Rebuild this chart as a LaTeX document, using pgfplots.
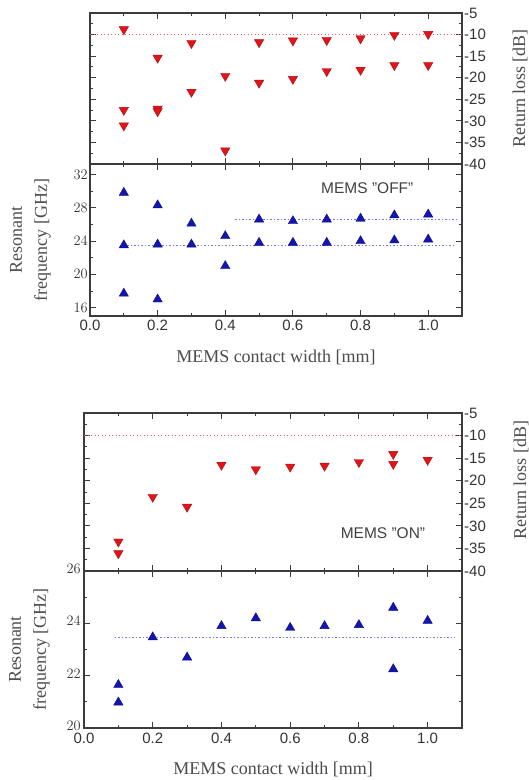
\documentclass[border=0pt]{standalone}
\usepackage{fontspec}
\setmainfont{Liberation Serif}
\setsansfont{Liberation Sans}
\usepackage{pgfplots}
\pgfplotsset{compat=1.18}
\definecolor{mred}{RGB}{225,20,25}
\definecolor{mblue}{RGB}{20,20,175}
\definecolor{lred}{RGB}{230,90,105}
\definecolor{lblue}{RGB}{110,120,225}
\definecolor{axgray}{RGB}{60,60,60}
\pgfplotsset{
  base/.style={
    scale only axis, xmin=0, xmax=1.1,
    axis line style={axgray, line width=1.1pt},
    every tick/.style={axgray, line width=0.9pt},
    major tick length=6pt, minor tick length=3pt, tick align=inside,
    xtick={0,0.2,0.4,0.6,0.8,1.0}, minor xtick={0.1,0.3,0.5,0.7,0.9},
    tick label style={font=\fontsize{15}{15}\sffamily, text=black!80},
    yticklabel style={inner xsep=2pt},
    xtick pos=both, ytick pos=both,
  },
  rl/.style={base, ymin=-40, ymax=-5,
    ytick={-40,-35,-30,-25,-20,-15,-10,-5},
    yticklabels={-40,-35,-30,-25,-20,-15,-10,-5},
    minor ytick={-37.5,-32.5,-27.5,-22.5,-17.5,-12.5,-7.5},
    yticklabel pos=right, xticklabels={},
    ylabel={Return loss [dB]},
  },
  fr/.style={base, yticklabel pos=left,
    xticklabels={0.0,0.2,0.4,0.6,0.8,1.0},
    xlabel={MEMS contact width [mm]},
    ylabel={Resonant\\frequency [GHz]},
    every axis x label/.style={at={(axis description cs:0.5,0)}, anchor=center, yshift=-41pt,
      font=\fontsize{18}{18}\selectfont, text=black!70},
  },
  redm/.style={only marks, mark=triangle*, mark size=5.4pt,
    mark options={rotate=180, fill=mred, draw=mred!75!black, line width=0.4pt}},
  bluem/.style={only marks, mark=triangle*, mark size=5.4pt,
    mark options={fill=mblue, draw=mblue!75!black, line width=0.4pt}},
  redl/.style={lred, line width=1.3pt, dash pattern=on 1.3pt off 2.2pt, no marks},
  bluel/.style={lblue, line width=1.3pt, dash pattern=on 1.3pt off 2.2pt, no marks},
}
\begin{document}
\begin{tikzpicture}
\path[use as bounding box] (0,0) rectangle (529pt,780pt);
% ---------------- top figure (OFF) ----------------
\begin{axis}[rl, at={(90pt,616pt)}, anchor=south west, width=372pt, height=151pt,
  every axis y label/.style={at={(axis description cs:1,0.5)}, xshift=58pt, rotate=90, anchor=center,
    font=\fontsize{18}{18}\selectfont, text=black!70}]
\addplot[redl] coordinates {(0,-10) (1.1,-10)};
\addplot[redm] coordinates {
(0.1,-8.8) (0.1,-27.5) (0.1,-31.1)
(0.2,-15.4) (0.2,-27.2) (0.2,-27.8)
(0.3,-12.0) (0.3,-23.3)
(0.4,-19.6) (0.4,-36.9)
(0.5,-11.8) (0.5,-21.2)
(0.6,-11.4) (0.6,-20.3)
(0.7,-11.3) (0.7,-18.5)
(0.8,-10.9) (0.8,-18.2)
(0.9,-10.1) (0.9,-17.1)
(1.0,-9.9) (1.0,-17.1)};
\end{axis}
\begin{axis}[fr, at={(90pt,464pt)}, anchor=south west, width=372pt, height=152pt,
  ymin=15, ymax=33.25, ytick={16,20,24,28,32}, minor ytick={18,22,26,30},
  every axis y label/.style={at={(axis description cs:0,0.5)}, xshift=-59.5pt, rotate=90, anchor=center,
    align=center, font=\fontsize{18}{25}\selectfont, text=black!70}]
\addplot[bluel] coordinates {(0.1,23.5) (1.08,23.5)};
\addplot[bluel] coordinates {(0.43,26.6) (1.09,26.6)};
\addplot[bluem] coordinates {
(0.1,29.8) (0.1,23.5) (0.1,17.7)
(0.2,28.3) (0.2,23.6) (0.2,17.0)
(0.3,26.1) (0.3,23.6)
(0.4,24.6) (0.4,21.0)
(0.5,26.6) (0.5,23.8)
(0.6,26.4) (0.6,23.8)
(0.7,26.6) (0.7,23.8)
(0.8,26.7) (0.8,24.0)
(0.9,27.1) (0.9,24.1)
(1.0,27.2) (1.0,24.2)};
\node[font=\fontsize{15.5}{15.5}\sffamily, text=black!75] at (axis cs:0.82,30.3) {MEMS "OFF"};
\end{axis}
% ---------------- bottom figure (ON) ----------------
\begin{axis}[rl, at={(84pt,209pt)}, anchor=south west, width=378pt, height=158pt,
  every axis y label/.style={at={(axis description cs:1,0.5)}, xshift=59pt, yshift=12pt, rotate=90, anchor=center,
    font=\fontsize{18}{18}\selectfont, text=black!70}]
\addplot[redl] coordinates {(0,-10) (1.1,-10)};
\addplot[redm] coordinates {
(0.1,-33.5) (0.1,-36.1)
(0.2,-23.6)
(0.3,-25.8)
(0.4,-16.5)
(0.5,-17.5)
(0.6,-16.9)
(0.7,-16.7)
(0.8,-15.9)
(0.9,-14.1) (0.9,-16.3)
(1.0,-15.4)};
\node[font=\fontsize{15.5}{15.5}\sffamily, text=black!75] at (axis cs:0.87,-31.6) {MEMS "ON"};
\end{axis}
\begin{axis}[fr, at={(84pt,52pt)}, anchor=south west, width=378pt, height=157pt,
  ymin=20, ymax=26, ytick={20,22,24,26}, minor ytick={21,23,25},
  yticklabel style={inner sep=1pt, xshift=-2pt, yshift=2pt},
  xticklabel style={inner sep=1pt, yshift=-4pt},
  every axis y label/.style={at={(axis description cs:0,0.5)}, xshift=-54.5pt, rotate=90, anchor=center,
    align=center, font=\fontsize{18}{25}\selectfont, text=black!70}]
\addplot[bluel] coordinates {(0.09,23.47) (1.08,23.47)};
\addplot[bluem] coordinates {
(0.1,21.65) (0.1,20.98)
(0.2,23.47)
(0.3,22.7)
(0.4,23.9)
(0.5,24.2)
(0.6,23.83)
(0.7,23.9)
(0.8,23.94)
(0.9,24.6) (0.9,22.25)
(1.0,24.1)};
\end{axis}
\end{tikzpicture}
\end{document}
